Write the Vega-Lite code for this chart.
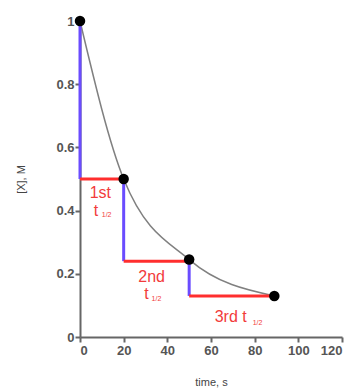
{
  "$schema": "https://vega.github.io/schema/vega-lite/v6.json",
  "width": 262,
  "height": 316,
  "autosize": "none",
  "padding": {"left": 80, "top": 21, "right": 12, "bottom": 53},
  "background": "white",
  "config": {
    "view": {"stroke": null},
    "axis": {
      "grid": false,
      "domainColor": "#666",
      "domainWidth": 2,
      "tickColor": "#666",
      "tickWidth": 2,
      "tickSize": 5,
      "labelFont": "Liberation Sans",
      "labelFontSize": 13,
      "labelFontWeight": "bold",
      "labelColor": "#555",
      "titleFont": "Liberation Sans",
      "titleFontSize": 11,
      "titleFontWeight": "normal",
      "titleColor": "#444"
    }
  },
  "datasets": {
    "pts": [
      {"t": 0, "x": 1},
      {"t": 20, "x": 0.5},
      {"t": 50, "x": 0.245},
      {"t": 89, "x": 0.13}
    ],
    "segs": [
      {"t": 0, "t2": 0, "x": 1, "x2": 0.5, "kind": "v"},
      {"t": 20, "t2": 20, "x": 0.5, "x2": 0.24, "kind": "v"},
      {"t": 50, "t2": 50, "x": 0.245, "x2": 0.13, "kind": "v"},
      {"t": 0, "t2": 20, "x": 0.5, "x2": 0.5, "kind": "h"},
      {"t": 20, "t2": 50, "x": 0.24, "x2": 0.24, "kind": "h"},
      {"t": 50, "t2": 89, "x": 0.13, "x2": 0.13, "kind": "h"}
    ],
    "labels": [
      {"t": 9.3, "x": 0.455, "txt": "1st"},
      {"t": 7.3, "x": 0.4, "txt": "t"},
      {"t": 32.8, "x": 0.19, "txt": "2nd"},
      {"t": 30.5, "x": 0.136, "txt": "t"},
      {"t": 69, "x": 0.063, "txt": "3rd t"}
    ],
    "subs": [
      {"t": 12.2, "x": 0.385, "txt": "1/2"},
      {"t": 35.0, "x": 0.12, "txt": "1/2"},
      {"t": 81.3, "x": 0.045, "txt": "1/2"}
    ]
  },
  "layer": [
    {
      "data": {"name": "pts"},
      "mark": {"type": "line", "interpolate": "monotone", "color": "#808080", "strokeWidth": 1.5},
      "encoding": {
        "x": {"field": "t", "type": "quantitative", "scale": {"domain": [0, 120], "nice": false},
          "axis": {"values": [0, 20, 40, 60, 80, 100, 120], "title": "time, s", "titlePadding": 19, "labelPadding": 2}},
        "y": {"field": "x", "type": "quantitative", "scale": {"domain": [0, 1], "nice": false},
          "axis": {"values": [0, 0.1, 0.2, 0.3, 0.4, 0.5, 0.6, 0.7, 0.8, 0.9, 1], "labelExpr": "datum.value * 10 % 2 == 0 ? datum.label : ''", "format": "~g", "title": "[X], M", "titlePadding": 29, "labelPadding": 1}}
      }
    },
    {
      "data": {"name": "segs"},
      "mark": {"type": "rule", "strokeWidth": 3},
      "encoding": {
        "x": {"field": "t", "type": "quantitative"},
        "x2": {"field": "t2"},
        "y": {"field": "x", "type": "quantitative"},
        "y2": {"field": "x2"},
        "color": {"field": "kind", "type": "nominal", "scale": {"domain": ["v", "h"], "range": ["#6a4cff", "#ff2e2e"]}, "legend": null}
      }
    },
    {
      "data": {"name": "pts"},
      "mark": {"type": "circle", "size": 110, "color": "black", "opacity": 1},
      "encoding": {
        "x": {"field": "t", "type": "quantitative"},
        "y": {"field": "x", "type": "quantitative"}
      }
    },
    {
      "data": {"name": "labels"},
      "mark": {"type": "text", "font": "Liberation Sans", "fontSize": 16, "color": "#f23b3b", "align": "center", "baseline": "middle"},
      "encoding": {
        "x": {"field": "t", "type": "quantitative"},
        "y": {"field": "x", "type": "quantitative"},
        "text": {"field": "txt"}
      }
    },
    {
      "data": {"name": "subs"},
      "mark": {"type": "text", "font": "Liberation Sans", "fontSize": 7, "color": "#f23b3b", "align": "center", "baseline": "middle"},
      "encoding": {
        "x": {"field": "t", "type": "quantitative"},
        "y": {"field": "x", "type": "quantitative"},
        "text": {"field": "txt"}
      }
    }
  ]
}
